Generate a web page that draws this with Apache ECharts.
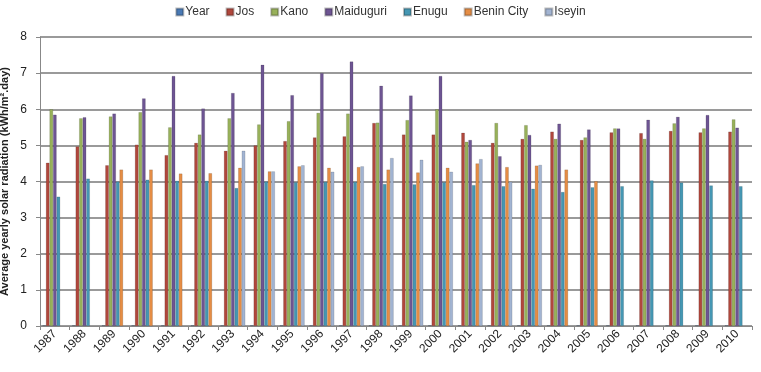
<!DOCTYPE html>
<html><head><meta charset="utf-8">
<script src="https://cdn.jsdelivr.net/npm/echarts@6/dist/echarts.min.js"></script>
<style>html,body{margin:0;padding:0;background:#fff}#c{width:761px;height:372px}</style>
</head><body><div id="c"></div>
<script>
const years = ['1987','1988','1989','1990','1991','1992','1993','1994','1995','1996','1997','1998','1999','2000','2001','2002','2003','2004','2005','2006','2007','2008','2009','2010'];
const yearSeries = [0.02,0.02,0.02,0.02,0.02,0.02,0.02,0.02,0.02,0.02,0.02,0.02,0.02,0.02,0.02,0.02,0.02,0.02,0.02,0.02,0.02,0.02,0.02,0.02];
const jos = [4.52,4.97,4.45,5.02,4.73,5.07,4.85,5.0,5.12,5.22,5.25,5.62,5.3,5.3,5.35,5.07,5.18,5.38,5.15,5.36,5.34,5.4,5.36,5.38];
const kano = [6.0,5.75,5.8,5.92,5.5,5.3,5.75,5.58,5.67,5.9,5.88,5.63,5.7,6.0,5.1,5.62,5.56,5.18,5.22,5.47,5.18,5.61,5.47,5.72];
const maiduguri = [5.85,5.78,5.88,6.3,6.92,6.02,6.45,7.23,6.39,7.0,7.32,6.65,6.38,6.92,5.15,4.7,5.29,5.6,5.44,5.47,5.71,5.79,5.84,5.49];
const enugu = [3.58,4.08,4.0,4.05,4.02,4.02,3.82,4.0,3.98,3.99,3.99,3.93,3.92,3.98,3.9,3.87,3.8,3.71,3.84,3.87,4.03,3.97,3.89,3.87];
const benin = [null,null,4.33,4.33,4.22,4.23,4.38,4.28,4.42,4.38,4.4,4.33,4.25,4.38,4.5,4.4,4.44,4.33,4.01,null,null,null,null,null];
const iseyin = [null,null,null,null,null,null,4.85,4.28,4.45,4.27,4.42,4.65,4.6,4.27,4.62,3.99,4.46,null,null,null,null,null,null,null];
const yTicks = [0,1,2,3,4,5,6,7,8];

const names = ['Year','Jos','Kano','Maiduguri','Enugu','Benin City','Iseyin'];
const colors = ['#4a7ab5','#b0473c','#98b15a','#6e5593','#4597b3','#e58d45','#a2b4d2'];
const datas = [yearSeries,jos,kano,maiduguri,enugu,benin,iseyin];
const font = 'Liberation Sans';
const chart = echarts.init(document.getElementById('c'), null, {renderer:'canvas'});
chart.setOption({
  animation:false,
  textStyle:{fontFamily:font},
  color:colors,
  legend:{top:1,left:'center',itemWidth:7,itemHeight:7,itemGap:16,icon:'rect',
    textStyle:{fontSize:12,color:'#333',fontFamily:font,padding:[0,0,0,-3]},data:names},
  grid:{left:40,right:9,top:37,bottom:46,outerBoundsMode:'none',containLabel:false},
  xAxis:{type:'category',data:years,
    axisLine:{lineStyle:{color:'#888'}},
    axisTick:{show:true,lineStyle:{color:'#888'},length:4},
    axisLabel:{rotate:45,fontSize:12,color:'#222',margin:6,fontFamily:font,interval:0}},
  yAxis:{type:'value',min:0,max:8,interval:1,
    name:'Average yearly solar radiation (kWh/m\u00B2.day)',nameLocation:'middle',nameGap:30,nameMoveOverlap:false,
    nameTextStyle:{fontSize:11,fontWeight:'bold',color:'#222',fontFamily:font},
    axisLine:{show:true,lineStyle:{color:'#888'}},
    axisTick:{show:true,length:4,lineStyle:{color:'#888'}},
    axisLabel:{fontSize:12,color:'#222',margin:13,fontFamily:font,
      formatter:v=>yTicks.includes(v)?String(v):''},
    splitLine:{lineStyle:{color:'#9a9a9a',width:2}}},
  series:datas.map((d,i)=>({name:names[i],type:'bar',data:d,barGap:'0%',barCategoryGap:'16%',
    itemStyle:{color:colors[i],borderColor:'rgba(0,0,0,0.25)',borderWidth:0.5}}))
});
</script></body></html>
